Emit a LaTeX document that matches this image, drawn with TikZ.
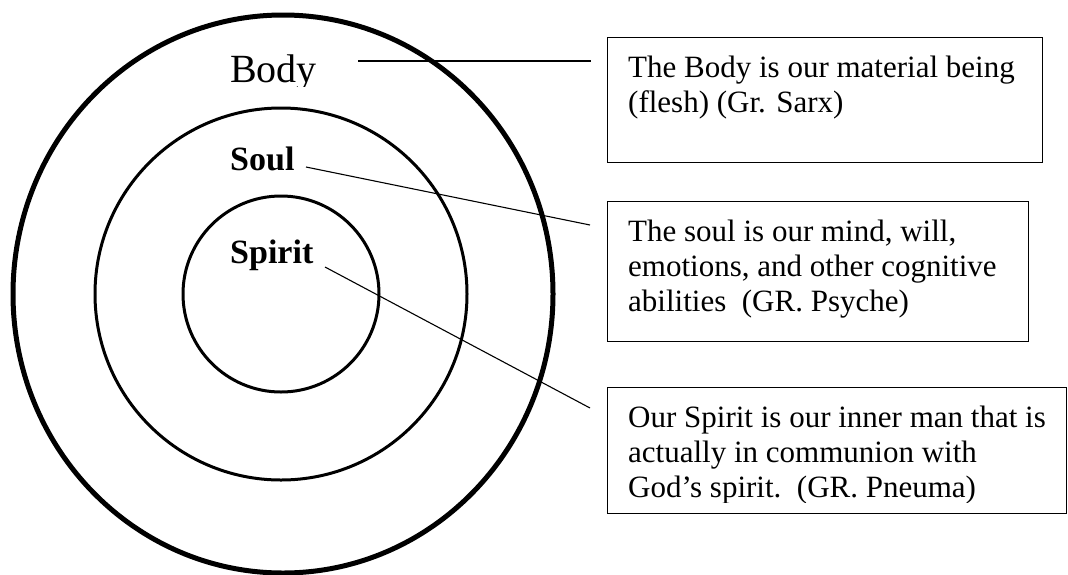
\documentclass[tikz,border=0pt]{standalone}
\usepackage{fontspec}
\setmainfont{Liberation Serif}
\usepackage{tikz}
\usetikzlibrary{positioning,calc}

\begin{document}
\begin{tikzpicture}[x=1pt,y=-1pt,
  ring/.style={line width=3pt},
  tag/.style={font=\fontsize{34}{40}\selectfont\bfseries,anchor=base west,inner sep=0pt},
  infobox/.style={draw,line width=1.4pt,anchor=north west,inner sep=0pt},
  infotext/.style={font=\fontsize{31}{35}\selectfont,align=left,anchor=base west,inner sep=0pt},
  link/.style={line width=1.1pt}]
\useasboundingbox (0,0) rectangle (1068,574);
\coordinate (C) at (281,294);
\draw[line width=5pt] (283,294) ellipse [x radius=270,y radius=279];
\draw[ring] (C) circle (186);
\draw[ring] (C) circle (98);
\begin{scope}
\clip (220,40) rectangle (330,86);
\node[tag,font=\fontsize{40}{48}\selectfont] (body) at (230,82) {Body};
\end{scope}
\node[tag] (soul) at (230,170) {Soul};
\node[tag] (spirit) at (230,263) {Spirit};
\node[infobox,minimum width=435pt,minimum height=125pt] (bodybox) at (607,37) {};
\node[infobox,minimum width=421pt,minimum height=140pt] (soulbox) at (607,201) {};
\node[infobox,minimum width=459pt,minimum height=126pt] (spiritbox) at (607,387) {};
\node[infotext] (bodytext) at (628,112) {The Body is our material being\\(flesh) (Gr. Sarx)};
\node[infotext] (soultext) at (628,311) {The soul is our mind, will,\\emotions, and other cognitive\\abilities\ \ (GR. Psyche)};
\coordinate (spiritcut) at (1066,502);
\begin{scope}
\clip (spiritbox.north west) rectangle (spiritcut);
\node[infotext] (spirittext) at (628,497) {Our Spirit is our inner man that is\\actually in communion with\\God's spirit.\ \ (GR. Pneuma)};
\end{scope}
\coordinate (bodyA) at (358,61);
\coordinate (bodyB) at (591,61);
\coordinate (soulA) at (306,167);
\coordinate (soulB) at (590,225);
\coordinate (spiritA) at (325,267);
\coordinate (spiritB) at (590,408);
\draw[link] (bodyA) -- (bodyB);
\draw[link] (soulA) -- (soulB);
\draw[link] (spiritA) -- (spiritB);
\end{tikzpicture}
\end{document}
